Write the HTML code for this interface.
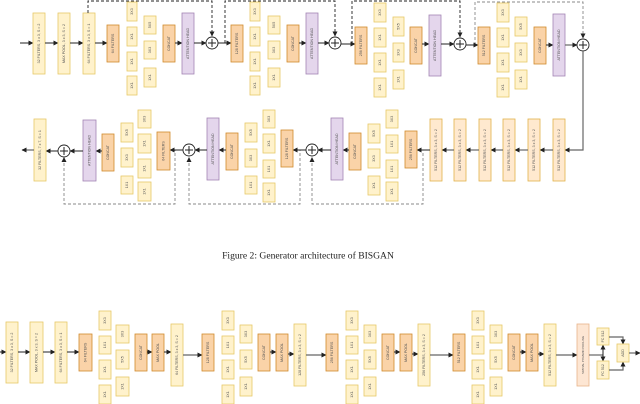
<!DOCTYPE html>
<html><head><meta charset="utf-8"><style>
html,body{margin:0;padding:0;background:#fff;}
svg{display:block;}
.y{fill:#fff2cc;stroke:#e6c868;stroke-width:0.8;}
.o{fill:#fad3a8;stroke:#d08a2c;stroke-width:0.8;}
.p{fill:#e4d6ec;stroke:#a284b4;stroke-width:0.8;}
.s{fill:#ffe9cf;stroke:#e2b24a;stroke-width:0.8;}
.k{fill:#fde6d3;stroke:#e8b48a;stroke-width:0.8;}
text{font-family:"Liberation Sans",sans-serif;font-size:3.6px;fill:#555;text-anchor:middle;dominant-baseline:central;}
.l{stroke:#222;stroke-width:1;fill:none;}
.g{stroke:#666;stroke-width:1.2;fill:none;}
.d{stroke:#222;stroke-width:0.9;fill:none;stroke-dasharray:3,2;}
.dg{stroke:#888;stroke-width:0.9;fill:none;stroke-dasharray:3,2;}
.c{fill:#fff;stroke:#222;stroke-width:0.9;}
</style></head><body>
<svg width="640" height="404" viewBox="0 0 640 404" xmlns="http://www.w3.org/2000/svg">
<defs>
<marker id="a" markerWidth="5" markerHeight="5" refX="4.5" refY="2.5" orient="auto" markerUnits="userSpaceOnUse"><path d="M0,0 L5,2.5 L0,5 z" fill="#222"/></marker>
</defs>

<!-- ROW 1 -->
<g>
<line class="l" x1="20" y1="43" x2="33" y2="43" marker-end="url(#a)"/>
<rect class="y" x="33" y="13" width="12" height="61"/><text transform="rotate(-90 39 43.5)" x="39" y="43.5">32 FILTERS, 3 x 3, S = 2</text>
<line class="l" x1="45" y1="43" x2="58" y2="43" marker-end="url(#a)"/>
<rect class="y" x="58" y="13" width="12" height="61"/><text transform="rotate(-90 64 43.5)" x="64" y="43.5">MAX POOL, 3 x 3, S = 2</text>
<line class="l" x1="70" y1="43" x2="83" y2="43" marker-end="url(#a)"/>
<rect class="y" x="83" y="13" width="12" height="61"/><text transform="rotate(-90 89 43.5)" x="89" y="43.5">64 FILTERS, 3 x 3, S = 1</text>
<line class="l" x1="95" y1="43" x2="107" y2="43" marker-end="url(#a)"/>

<path class="d" d="M88 13 V1 H212 V36" marker-end="url(#a)"/>
<path class="d" d="M225 43 V1 H335 V36" marker-end="url(#a)"/>
<path class="d" d="M352 44 V1 H460 V37" marker-end="url(#a)"/>
<path class="dg" d="M475 45 V2 H583 V38" marker-end="url(#a)"/>

<!-- block 1 -->
<rect class="o" x="107" y="25" width="12" height="37"/><text transform="rotate(-90 113 43.5)" x="113" y="43.5">64 FILTERS</text>
<rect class="y" x="127" y="2" width="10" height="19"/><text transform="rotate(-90 132 11.5)" x="132" y="11.5">3X3</text>
<rect class="y" x="127" y="27" width="10" height="19"/><text transform="rotate(-90 132 36.5)" x="132" y="36.5">1X1</text>
<rect class="y" x="127" y="52" width="10" height="19"/><text transform="rotate(-90 132 61.5)" x="132" y="61.5">1X1</text>
<rect class="y" x="127" y="76" width="10" height="19"/><text transform="rotate(-90 132 85.5)" x="132" y="85.5">1X1</text>
<rect class="y" x="144" y="16" width="12" height="18"/><text transform="rotate(-90 150 25)" x="150" y="25">5X5</text>
<rect class="y" x="144" y="41" width="12" height="18"/><text transform="rotate(-90 150 50)" x="150" y="50">3X3</text>
<rect class="y" x="144" y="68" width="12" height="19"/><text transform="rotate(-90 150 77.5)" x="150" y="77.5">1X1</text>
<rect class="o" x="163" y="25" width="12" height="37"/><text transform="rotate(-90 169 43.5)" x="169" y="43.5">CONCAT</text>
<line class="l" x1="175" y1="43" x2="182" y2="43" marker-end="url(#a)"/>
<rect class="p" x="182" y="13" width="12" height="61"/><text transform="rotate(-90 188 43.5)" x="188" y="43.5">ATTENTION HEAD</text>
<line class="l" x1="194" y1="43" x2="206" y2="43" marker-end="url(#a)"/>
<circle class="c" cx="212" cy="43" r="6"/><path class="l" d="M208 43 H216 M212 39 V47"/>
<line class="l" x1="218" y1="43" x2="231" y2="43" marker-end="url(#a)"/>

<!-- block 2 -->
<rect class="o" x="231" y="25" width="12" height="37"/><text transform="rotate(-90 237 43.5)" x="237" y="43.5">128 FILTERS</text>
<rect class="y" x="250" y="2" width="10" height="19"/><text transform="rotate(-90 255 11.5)" x="255" y="11.5">3X3</text>
<rect class="y" x="250" y="27" width="10" height="19"/><text transform="rotate(-90 255 36.5)" x="255" y="36.5">1X1</text>
<rect class="y" x="250" y="52" width="10" height="19"/><text transform="rotate(-90 255 61.5)" x="255" y="61.5">1X1</text>
<rect class="y" x="250" y="76" width="10" height="19"/><text transform="rotate(-90 255 85.5)" x="255" y="85.5">1X1</text>
<rect class="y" x="268" y="16" width="12" height="18"/><text transform="rotate(-90 274 25)" x="274" y="25">5X5</text>
<rect class="y" x="268" y="41" width="12" height="18"/><text transform="rotate(-90 274 50)" x="274" y="50">3X3</text>
<rect class="y" x="268" y="68" width="12" height="19"/><text transform="rotate(-90 274 77.5)" x="274" y="77.5">1X1</text>
<rect class="o" x="287" y="25" width="12" height="37"/><text transform="rotate(-90 293 43.5)" x="293" y="43.5">CONCAT</text>
<line class="l" x1="299" y1="43" x2="306" y2="43" marker-end="url(#a)"/>
<rect class="p" x="306" y="13" width="12" height="61"/><text transform="rotate(-90 312 43.5)" x="312" y="43.5">ATTENTION HEAD</text>
<line class="l" x1="318" y1="43" x2="329" y2="43" marker-end="url(#a)"/>
<circle class="c" cx="335" cy="43" r="6"/><path class="l" d="M331 43 H339 M335 39 V47"/>
<line class="l" x1="341" y1="44" x2="355" y2="44" marker-end="url(#a)"/>

<!-- block 3 -->
<rect class="o" x="355" y="27" width="12" height="37"/><text transform="rotate(-90 361 45.5)" x="361" y="45.5">256 FILTERS</text>
<rect class="y" x="374" y="3" width="12" height="19"/><text transform="rotate(-90 380 12.5)" x="380" y="12.5">3X3</text>
<rect class="y" x="374" y="28" width="12" height="19"/><text transform="rotate(-90 380 37.5)" x="380" y="37.5">1X1</text>
<rect class="y" x="374" y="53" width="12" height="19"/><text transform="rotate(-90 380 62.5)" x="380" y="62.5">1X1</text>
<rect class="y" x="374" y="78" width="12" height="19"/><text transform="rotate(-90 380 87.5)" x="380" y="87.5">1X1</text>
<rect class="y" x="393" y="17" width="11" height="19"/><text transform="rotate(-90 398.5 26.5)" x="398.5" y="26.5">5X5</text>
<rect class="y" x="393" y="43" width="11" height="19"/><text transform="rotate(-90 398.5 52.5)" x="398.5" y="52.5">3X3</text>
<rect class="y" x="393" y="70" width="11" height="19"/><text transform="rotate(-90 398.5 79.5)" x="398.5" y="79.5">1X1</text>
<rect class="o" x="410" y="27" width="12" height="37"/><text transform="rotate(-90 416 45.5)" x="416" y="45.5">CONCAT</text>
<line class="l" x1="422" y1="44" x2="429" y2="44" marker-end="url(#a)"/>
<rect class="p" x="429" y="15" width="12" height="61"/><text transform="rotate(-90 435 45.5)" x="435" y="45.5">ATTENTION HEAD</text>
<line class="l" x1="441" y1="44" x2="454" y2="44" marker-end="url(#a)"/>
<circle class="c" cx="460" cy="44" r="6"/><path class="l" d="M456 44 H464 M460 40 V48"/>
<line class="l" x1="466" y1="45" x2="478" y2="45" marker-end="url(#a)"/>

<!-- block 4 -->
<rect class="o" x="478" y="27" width="12" height="37"/><text transform="rotate(-90 484 45.5)" x="484" y="45.5">512 FILTERS</text>
<rect class="y" x="497" y="3" width="12" height="19"/><text transform="rotate(-90 503 12.5)" x="503" y="12.5">3X3</text>
<rect class="y" x="497" y="28" width="12" height="19"/><text transform="rotate(-90 503 37.5)" x="503" y="37.5">1X1</text>
<rect class="y" x="497" y="53" width="12" height="19"/><text transform="rotate(-90 503 62.5)" x="503" y="62.5">1X1</text>
<rect class="y" x="497" y="78" width="12" height="19"/><text transform="rotate(-90 503 87.5)" x="503" y="87.5">1X1</text>
<rect class="y" x="515" y="17" width="12" height="19"/><text transform="rotate(-90 521 26.5)" x="521" y="26.5">5X5</text>
<rect class="y" x="515" y="43" width="12" height="19"/><text transform="rotate(-90 521 52.5)" x="521" y="52.5">3X3</text>
<rect class="y" x="515" y="70" width="12" height="19"/><text transform="rotate(-90 521 79.5)" x="521" y="79.5">1X1</text>
<rect class="o" x="534" y="27" width="12" height="37"/><text transform="rotate(-90 540 45.5)" x="540" y="45.5">CONCAT</text>
<line class="l" x1="546" y1="45" x2="553" y2="45" marker-end="url(#a)"/>
<rect class="p" x="553" y="14" width="12" height="62"/><text transform="rotate(-90 559 45)" x="559" y="45">ATTENTION HEAD</text>
<line class="g" x1="565" y1="45" x2="577" y2="45" marker-end="url(#a)"/>
<circle class="c" cx="583" cy="45" r="6"/><path class="l" d="M579 45 H587 M583 41 V49"/>
</g>

<!-- ROW 2 -->
<g>
<path class="g" d="M583 51 V150 H565" marker-end="url(#a)"/>
<rect class="s" x="553" y="119" width="12" height="62"/><text transform="rotate(-90 559 150)" x="559" y="150">512 FILTERS, 3 x 3, S = 2</text>
<line class="g" x1="553" y1="150" x2="540" y2="150" marker-end="url(#a)"/>
<rect class="s" x="528" y="119" width="12" height="62"/><text transform="rotate(-90 534 150)" x="534" y="150">512 FILTERS, 3 x 3, S = 2</text>
<line class="g" x1="528" y1="150" x2="515" y2="150" marker-end="url(#a)"/>
<rect class="s" x="503" y="119" width="12" height="62"/><text transform="rotate(-90 509 150)" x="509" y="150">512 FILTERS, 3 x 3, S = 2</text>
<line class="g" x1="503" y1="150" x2="491" y2="150" marker-end="url(#a)"/>
<rect class="s" x="479" y="119" width="12" height="62"/><text transform="rotate(-90 485 150)" x="485" y="150">512 FILTERS, 3 x 3, S = 2</text>
<line class="g" x1="479" y1="150" x2="466" y2="150" marker-end="url(#a)"/>
<rect class="s" x="454" y="119" width="12" height="62"/><text transform="rotate(-90 460 150)" x="460" y="150">512 FILTERS, 3 x 3, S = 2</text>
<line class="g" x1="454" y1="150" x2="442" y2="150" marker-end="url(#a)"/>
<rect class="s" x="430" y="119" width="12" height="62"/><text transform="rotate(-90 436 150)" x="436" y="150">512 FILTERS, 3 x 3, S = 2</text>
<line class="l" x1="430" y1="150" x2="417" y2="150" marker-end="url(#a)"/>

<path class="dg" d="M64 158 V204 H175 V150"/>
<path class="dg" d="M189 158 V204 H300 V150"/>
<path class="dg" d="M312 158 V204 H423 V150"/>
<path d="M61.5 162 L64 157 L66.5 162 z M186.5 162 L189 157 L191.5 162 z M309.5 162 L312 157 L314.5 162 z" fill="#222"/>

<!-- 256 block -->
<rect class="o" x="405" y="131" width="12" height="37"/><text transform="rotate(-90 411 149.5)" x="411" y="149.5">256 FILTERS</text>
<rect class="y" x="386" y="110" width="12" height="18"/><text transform="rotate(-90 392 119)" x="392" y="119">3X3</text>
<rect class="y" x="386" y="135" width="12" height="18"/><text transform="rotate(-90 392 144)" x="392" y="144">1X1</text>
<rect class="y" x="386" y="160" width="12" height="18"/><text transform="rotate(-90 392 169)" x="392" y="169">1X1</text>
<rect class="y" x="386" y="182" width="12" height="19"/><text transform="rotate(-90 392 191.5)" x="392" y="191.5">1X1</text>
<rect class="y" x="368" y="124" width="12" height="19"/><text transform="rotate(-90 374 133.5)" x="374" y="133.5">5X5</text>
<rect class="y" x="368" y="149" width="12" height="19"/><text transform="rotate(-90 374 158.5)" x="374" y="158.5">3X3</text>
<rect class="y" x="368" y="176" width="12" height="19"/><text transform="rotate(-90 374 185.5)" x="374" y="185.5">1X1</text>
<rect class="o" x="349" y="133" width="12" height="37"/><text transform="rotate(-90 355 151.5)" x="355" y="151.5">CONCAT</text>
<line class="l" x1="349" y1="150" x2="343" y2="150" marker-end="url(#a)"/>
<rect class="p" x="331" y="118" width="12" height="62"/><text transform="rotate(-90 337 149)" x="337" y="149">ATTENTION HEAD</text>
<line class="l" x1="331" y1="150" x2="318" y2="150" marker-end="url(#a)"/>
<circle class="c" cx="312" cy="150" r="6"/><path class="l" d="M308 150 H316 M312 146 V154"/>
<line class="l" x1="306" y1="150" x2="293" y2="150" marker-end="url(#a)"/>

<!-- 128 block -->
<rect class="o" x="281" y="130" width="12" height="37"/><text transform="rotate(-90 287 148.5)" x="287" y="148.5">128 FILTERS</text>
<rect class="y" x="263" y="110" width="12" height="18"/><text transform="rotate(-90 269 119)" x="269" y="119">3X3</text>
<rect class="y" x="263" y="134" width="12" height="19"/><text transform="rotate(-90 269 143.5)" x="269" y="143.5">1X1</text>
<rect class="y" x="263" y="160" width="12" height="18"/><text transform="rotate(-90 269 169)" x="269" y="169">1X1</text>
<rect class="y" x="263" y="183" width="12" height="19"/><text transform="rotate(-90 269 192.5)" x="269" y="192.5">1X1</text>
<rect class="y" x="245" y="123" width="12" height="19"/><text transform="rotate(-90 251 132.5)" x="251" y="132.5">5X5</text>
<rect class="y" x="245" y="149" width="12" height="18"/><text transform="rotate(-90 251 158)" x="251" y="158">3X3</text>
<rect class="y" x="245" y="176" width="12" height="18"/><text transform="rotate(-90 251 185)" x="251" y="185">1X1</text>
<rect class="o" x="226" y="133" width="12" height="37"/><text transform="rotate(-90 232 151.5)" x="232" y="151.5">CONCAT</text>
<line class="l" x1="226" y1="150" x2="219" y2="150" marker-end="url(#a)"/>
<rect class="p" x="207" y="118" width="12" height="62"/><text transform="rotate(-90 213 149)" x="213" y="149">ATTENTION HEAD</text>
<line class="l" x1="207" y1="150" x2="195" y2="150" marker-end="url(#a)"/>
<circle class="c" cx="189" cy="150" r="6"/><path class="l" d="M185 150 H193 M189 146 V154"/>
<line class="l" x1="183" y1="150" x2="170" y2="150" marker-end="url(#a)"/>

<!-- 64 block -->
<rect class="o" x="157" y="132" width="13" height="38"/><text transform="rotate(-90 163.5 151)" x="163.5" y="151">64 FILTERS</text>
<rect class="y" x="138" y="110" width="13" height="18"/><text transform="rotate(-90 144.5 119)" x="144.5" y="119">3X3</text>
<rect class="y" x="138" y="134" width="13" height="19"/><text transform="rotate(-90 144.5 143.5)" x="144.5" y="143.5">1X1</text>
<rect class="y" x="138" y="159" width="13" height="19"/><text transform="rotate(-90 144.5 168.5)" x="144.5" y="168.5">1X1</text>
<rect class="y" x="138" y="182" width="13" height="19"/><text transform="rotate(-90 144.5 191.5)" x="144.5" y="191.5">1X1</text>
<rect class="y" x="121" y="123" width="12" height="19"/><text transform="rotate(-90 127 132.5)" x="127" y="132.5">5X5</text>
<rect class="y" x="121" y="148" width="12" height="19"/><text transform="rotate(-90 127 157.5)" x="127" y="157.5">3X3</text>
<rect class="y" x="121" y="176" width="12" height="18"/><text transform="rotate(-90 127 185)" x="127" y="185">1X1</text>
<rect class="o" x="102" y="134" width="12" height="37"/><text transform="rotate(-90 108 152.5)" x="108" y="152.5">CONCAT</text>
<line class="l" x1="102" y1="151" x2="96" y2="151" marker-end="url(#a)"/>
<rect class="p" x="83" y="120" width="13" height="61"/><text transform="rotate(-90 89.5 150.5)" x="89.5" y="150.5">ATTENTION HEAD</text>
<line class="l" x1="83" y1="151" x2="70" y2="151" marker-end="url(#a)"/>
<circle class="c" cx="64" cy="151" r="6"/><path class="l" d="M60 151 H68 M64 147 V155"/>
<line class="l" x1="58" y1="151" x2="46" y2="151" marker-end="url(#a)"/>
<rect class="y" x="34" y="119" width="12" height="62"/><text transform="rotate(-90 40 150)" x="40" y="150">32 FILTERS, 7 x 7, S = 1</text>
<line class="g" x1="34" y1="150" x2="22" y2="150" marker-end="url(#a)"/>
</g>

<text x="308" y="256" style="font-family:'Liberation Serif',serif;font-size:9.6px;fill:#222;">Figure 2: Generator architecture of BISGAN</text>

<!-- ROW 3 -->
<g>
<line class="l" x1="0" y1="352" x2="6" y2="352" marker-end="url(#a)"/>
<rect class="y" x="6" y="322" width="12" height="61"/><text transform="rotate(-90 12 352.5)" x="12" y="352.5">32 FILTERS, 3 x 3, S = 2</text>
<line class="l" x1="18" y1="352" x2="30" y2="352" marker-end="url(#a)"/>
<rect class="y" x="30" y="322" width="13" height="61"/><text transform="rotate(-90 36.5 352.5)" x="36.5" y="352.5">MAX POOL, 3 x 3, S = 2</text>
<line class="l" x1="43" y1="352" x2="55" y2="352" marker-end="url(#a)"/>
<rect class="y" x="55" y="322" width="12" height="61"/><text transform="rotate(-90 61 352.5)" x="61" y="352.5">64 FILTERS, 3 x 3, S = 1</text>
<line class="l" x1="67" y1="352" x2="79" y2="352" marker-end="url(#a)"/>

<rect class="o" x="79" y="334" width="13" height="37"/><text transform="rotate(-90 85.5 352.5)" x="85.5" y="352.5">64 FILTERS</text>
<rect class="y" x="99" y="311" width="12" height="19"/><text transform="rotate(-90 105 320.5)" x="105" y="320.5">3X3</text>
<rect class="y" x="99" y="336" width="12" height="18"/><text transform="rotate(-90 105 345)" x="105" y="345">1X1</text>
<rect class="y" x="99" y="360" width="12" height="19"/><text transform="rotate(-90 105 369.5)" x="105" y="369.5">1X1</text>
<rect class="y" x="99" y="385" width="12" height="19"/><text transform="rotate(-90 105 394.5)" x="105" y="394.5">1X1</text>
<rect class="y" x="116" y="325" width="13" height="18"/><text transform="rotate(-90 122.5 334)" x="122.5" y="334">3X3</text>
<rect class="y" x="116" y="350" width="13" height="19"/><text transform="rotate(-90 122.5 359.5)" x="122.5" y="359.5">5X5</text>
<rect class="y" x="116" y="377" width="13" height="19"/><text transform="rotate(-90 122.5 386.5)" x="122.5" y="386.5">1X1</text>
<rect class="o" x="135" y="334" width="12" height="37"/><text transform="rotate(-90 141 352.5)" x="141" y="352.5">CONCAT</text>
<line class="l" x1="147" y1="352" x2="152" y2="352" marker-end="url(#a)"/>
<rect class="o" x="152" y="334" width="12" height="37"/><text transform="rotate(-90 158 352.5)" x="158" y="352.5">MAX POOL</text>
<line class="l" x1="164" y1="352" x2="171" y2="352" marker-end="url(#a)"/>
<rect class="y" x="171" y="324" width="12" height="62"/><text transform="rotate(-90 177 355)" x="177" y="355">64 FILTERS, 3 x 3, S = 2</text>
<line class="g" x1="183" y1="355" x2="202" y2="355" marker-end="url(#a)"/>

<rect class="o" x="202" y="334" width="12" height="37"/><text transform="rotate(-90 208 352.5)" x="208" y="352.5">128 FILTERS</text>
<rect class="y" x="222" y="311" width="12" height="19"/><text transform="rotate(-90 228 320.5)" x="228" y="320.5">3X3</text>
<rect class="y" x="222" y="336" width="12" height="18"/><text transform="rotate(-90 228 345)" x="228" y="345">1X1</text>
<rect class="y" x="222" y="360" width="12" height="19"/><text transform="rotate(-90 228 369.5)" x="228" y="369.5">1X1</text>
<rect class="y" x="222" y="385" width="12" height="19"/><text transform="rotate(-90 228 394.5)" x="228" y="394.5">1X1</text>
<rect class="y" x="240" y="325" width="12" height="18"/><text transform="rotate(-90 246 334)" x="246" y="334">3X3</text>
<rect class="y" x="240" y="350" width="12" height="19"/><text transform="rotate(-90 246 359.5)" x="246" y="359.5">5X5</text>
<rect class="y" x="240" y="377" width="12" height="19"/><text transform="rotate(-90 246 386.5)" x="246" y="386.5">1X1</text>
<rect class="o" x="258" y="334" width="12" height="37"/><text transform="rotate(-90 264 352.5)" x="264" y="352.5">CONCAT</text>
<line class="l" x1="270" y1="352" x2="276" y2="352" marker-end="url(#a)"/>
<rect class="o" x="276" y="334" width="12" height="37"/><text transform="rotate(-90 282 352.5)" x="282" y="352.5">MAX POOL</text>
<line class="l" x1="288" y1="354" x2="294" y2="354" marker-end="url(#a)"/>
<rect class="y" x="294" y="324" width="12" height="62"/><text transform="rotate(-90 300 355)" x="300" y="355">128 FILTERS, 3 x 3, S = 2</text>
<line class="g" x1="306" y1="355" x2="326" y2="355" marker-end="url(#a)"/>

<rect class="o" x="326" y="334" width="12" height="37"/><text transform="rotate(-90 332 352.5)" x="332" y="352.5">256 FILTERS</text>
<rect class="y" x="346" y="311" width="12" height="19"/><text transform="rotate(-90 352 320.5)" x="352" y="320.5">3X3</text>
<rect class="y" x="346" y="336" width="12" height="18"/><text transform="rotate(-90 352 345)" x="352" y="345">1X1</text>
<rect class="y" x="346" y="360" width="12" height="19"/><text transform="rotate(-90 352 369.5)" x="352" y="369.5">1X1</text>
<rect class="y" x="346" y="385" width="12" height="19"/><text transform="rotate(-90 352 394.5)" x="352" y="394.5">1X1</text>
<rect class="y" x="364" y="325" width="12" height="18"/><text transform="rotate(-90 370 334)" x="370" y="334">3X3</text>
<rect class="y" x="364" y="350" width="12" height="19"/><text transform="rotate(-90 370 359.5)" x="370" y="359.5">5X5</text>
<rect class="y" x="364" y="377" width="12" height="19"/><text transform="rotate(-90 370 386.5)" x="370" y="386.5">1X1</text>
<rect class="o" x="382" y="334" width="12" height="37"/><text transform="rotate(-90 388 352.5)" x="388" y="352.5">CONCAT</text>
<line class="l" x1="394" y1="352" x2="400" y2="352" marker-end="url(#a)"/>
<rect class="o" x="400" y="334" width="12" height="37"/><text transform="rotate(-90 406 352.5)" x="406" y="352.5">MAX POOL</text>
<line class="l" x1="412" y1="354" x2="418" y2="354" marker-end="url(#a)"/>
<rect class="y" x="418" y="324" width="12" height="62"/><text transform="rotate(-90 424 355)" x="424" y="355">256 FILTERS, 3 x 3, S = 2</text>
<line class="g" x1="430" y1="355" x2="453" y2="355" marker-end="url(#a)"/>

<rect class="o" x="453" y="334" width="12" height="37"/><text transform="rotate(-90 459 352.5)" x="459" y="352.5">512 FILTERS</text>
<rect class="y" x="472" y="311" width="12" height="19"/><text transform="rotate(-90 478 320.5)" x="478" y="320.5">3X3</text>
<rect class="y" x="472" y="336" width="12" height="18"/><text transform="rotate(-90 478 345)" x="478" y="345">1X1</text>
<rect class="y" x="472" y="360" width="12" height="19"/><text transform="rotate(-90 478 369.5)" x="478" y="369.5">1X1</text>
<rect class="y" x="472" y="385" width="12" height="19"/><text transform="rotate(-90 478 394.5)" x="478" y="394.5">1X1</text>
<rect class="y" x="490" y="325" width="12" height="18"/><text transform="rotate(-90 496 334)" x="496" y="334">3X3</text>
<rect class="y" x="490" y="350" width="12" height="19"/><text transform="rotate(-90 496 359.5)" x="496" y="359.5">5X5</text>
<rect class="y" x="490" y="377" width="12" height="19"/><text transform="rotate(-90 496 386.5)" x="496" y="386.5">1X1</text>
<rect class="o" x="508" y="334" width="12" height="37"/><text transform="rotate(-90 514 352.5)" x="514" y="352.5">CONCAT</text>
<line class="l" x1="520" y1="352" x2="526" y2="352" marker-end="url(#a)"/>
<rect class="o" x="526" y="334" width="12" height="37"/><text transform="rotate(-90 532 352.5)" x="532" y="352.5">MAX POOL</text>
<line class="l" x1="538" y1="354" x2="544" y2="354" marker-end="url(#a)"/>
<rect class="y" x="544" y="324" width="12" height="62"/><text transform="rotate(-90 550 355)" x="550" y="355">512 FILTERS, 3 x 3, S = 2</text>
<line class="g" x1="556" y1="355" x2="577" y2="355" marker-end="url(#a)"/>

<rect class="k" x="577" y="324" width="12" height="62"/><text transform="rotate(-90 583 355)" x="583" y="355" style="font-size:2.8px">SPATIAL PYRAMID POOLING</text>
<path class="g" d="M589 355 H603"/>
<line class="l" x1="603" y1="355" x2="603" y2="345" marker-end="url(#a)"/>
<line class="l" x1="603" y1="355" x2="603" y2="361" marker-end="url(#a)"/>
<rect class="y" x="597" y="328" width="12" height="17"/><text transform="rotate(-90 603 336.5)" x="603" y="336.5">FC 512</text>
<rect class="y" x="597" y="361" width="12" height="18"/><text transform="rotate(-90 603 370)" x="603" y="370">FC 512</text>
<path class="g" d="M609 337 H623 V344" marker-end="url(#a)"/>
<path class="g" d="M609 370 H623 V362" marker-end="url(#a)"/>
<rect class="y" x="617" y="344" width="12" height="18"/><text transform="rotate(-90 623 353)" x="623" y="353">ADD</text>
<line class="g" x1="629" y1="353" x2="640" y2="353" marker-end="url(#a)"/>
</g>
</svg>
</body></html>
